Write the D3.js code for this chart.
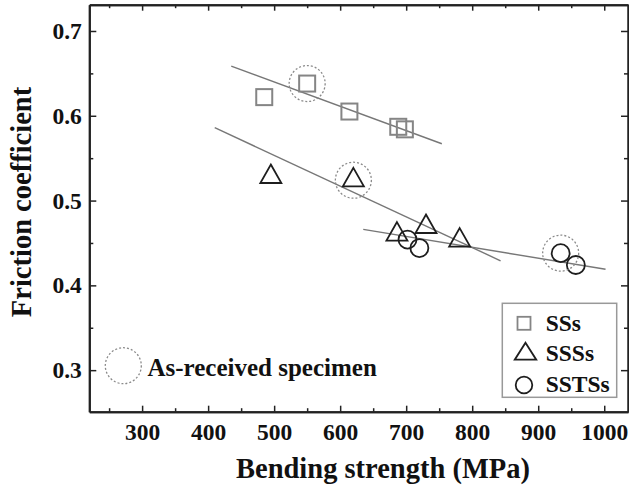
<!DOCTYPE html>
<html>
<head>
<meta charset="utf-8">
<script src="https://cdn.jsdelivr.net/npm/d3@7"></script>
<style>
  html, body { margin: 0; padding: 0; background: #fff; }
  svg { display: block; }
</style>
</head>
<body>
<svg id="chart" width="629" height="488"></svg>
<script>
// ---- data ----
const ssX  = [485, 550, 614, 688, 698];
const ssY  = [0.622, 0.638, 0.605, 0.587, 0.584];
const sssX = [495, 620, 686, 730, 781];
const sssY = [0.528, 0.524, 0.460, 0.469, 0.453];
const sstX = [702, 720, 934, 957];
const sstY = [0.454, 0.444, 0.438, 0.424];
const asReceivedX = [550, 620, 934];
const asReceivedY = [0.638, 0.524, 0.438];
const ssFitX  = [435, 754];
const ssFitY  = [0.6585, 0.567];
const sssFitX = [410, 843];
const sssFitY = [0.586, 0.429];
const sstFitX = [635, 1002];
const sstFitY = [0.466, 0.419];
const xTicks = [300, 400, 500, 600, 700, 800, 900, 1000];
const xMinor = [250, 350, 450, 550, 650, 750, 850, 950];
const yTicks = [0.3, 0.4, 0.5, 0.6, 0.7];
const yMinor = [0.35, 0.45, 0.55, 0.65];
const seriesNames = ["SSs", "SSSs", "SSTSs"];
const xTitle = "Bending strength (MPa)";
const yTitle = "Friction coefficient";
const noteLabel = "As-received specimen";

// ---- layout ----
const FONT = '"Liberation Serif", "Times New Roman", Times, serif';
const svg = d3.select("#chart");
const L = 89.3, T = 4.7, R = 628, B = 411.7;
const x = d3.scaleLinear().domain([220, 1036]).range([L, R]);
const y = d3.scaleLinear().domain([0.251, 0.731]).range([B, T]);

const axisCol = "#222";
function styleAxis(g) {
  g.attr("font-family", FONT).attr("font-weight", "bold");
  g.selectAll("path.domain").attr("stroke", axisCol).attr("stroke-width", 2);
  g.selectAll(".tick line").attr("stroke", axisCol).attr("stroke-width", 1.5);
  g.selectAll(".tick text").attr("font-family", FONT).attr("font-weight", "bold")
    .attr("font-size", 23.5).attr("fill", "#111");
}

// minor ticks
svg.append("g").attr("transform", `translate(0,${B})`)
  .call(d3.axisBottom(x).tickValues(xMinor).tickSize(-3.5).tickSizeOuter(0).tickFormat(""))
  .call(styleAxis);
svg.append("g").attr("transform", `translate(0,${T})`)
  .call(d3.axisTop(x).tickValues(xMinor).tickSize(-3.5).tickSizeOuter(0).tickFormat(""))
  .call(styleAxis);
svg.append("g").attr("transform", `translate(${L},0)`)
  .call(d3.axisLeft(y).tickValues(yMinor).tickSize(-4).tickSizeOuter(0).tickFormat(""))
  .call(styleAxis);
svg.append("g").attr("transform", `translate(${R},0)`)
  .call(d3.axisRight(y).tickValues(yMinor).tickSize(-4).tickSizeOuter(0).tickFormat(""))
  .call(styleAxis);

// major ticks
svg.append("g").attr("transform", `translate(0,${B})`)
  .call(d3.axisBottom(x).tickValues(xTicks).tickSize(-6).tickSizeOuter(0).tickPadding(11.5).tickFormat(d3.format("d")))
  .call(styleAxis);
svg.append("g").attr("transform", `translate(0,${T})`)
  .call(d3.axisTop(x).tickValues(xTicks).tickSize(-6).tickSizeOuter(0).tickFormat(""))
  .call(styleAxis);
svg.append("g").attr("transform", `translate(${L},0)`)
  .call(d3.axisLeft(y).tickValues(yTicks).tickSize(-7).tickSizeOuter(0).tickPadding(7.5).tickFormat(d3.format(".1f")))
  .call(styleAxis);
svg.append("g").attr("transform", `translate(${R},0)`)
  .call(d3.axisRight(y).tickValues(yTicks).tickSize(-7).tickSizeOuter(0).tickFormat(""))
  .call(styleAxis);

function label(sel, size) {
  return sel.attr("font-family", FONT).attr("font-weight", "bold").attr("font-size", size).attr("fill", "#111");
}

// axis titles
label(svg.append("text"), 28.5).attr("x", 383).attr("y", 478).attr("text-anchor", "middle").text(xTitle);
label(svg.append("text"), 28.5).attr("transform", "translate(31,202) rotate(-90)").attr("text-anchor", "middle").text(yTitle);

// fit lines
const lineGen = d3.line().x(d => x(d[0])).y(d => y(d[1]));
[[ssFitX, ssFitY], [sssFitX, sssFitY], [sstFitX, sstFitY]].forEach(([xs, ys]) => {
  svg.append("path").datum(xs.map((v, i) => [v, ys[i]]))
    .attr("d", lineGen).attr("fill", "none").attr("stroke", "#777").attr("stroke-width", 1.4);
});

// marker shapes
function trianglePath(w, h) {
  return `M0,${-2 * h / 3}L${w / 2},${h / 3}L${-w / 2},${h / 3}Z`;
}
const sqCol = "#858585", darkCol = "#1e1e1e";

svg.append("g").selectAll("rect").data(ssX.map((v, i) => [v, ssY[i]])).join("rect")
  .attr("x", d => x(d[0]) - 8).attr("y", d => y(d[1]) - 8).attr("width", 16).attr("height", 16)
  .attr("fill", "none").attr("stroke", sqCol).attr("stroke-width", 2);

svg.append("g").selectAll("path").data(sssX.map((v, i) => [v, sssY[i]])).join("path")
  .attr("transform", d => `translate(${x(d[0])},${y(d[1])})`)
  .attr("d", trianglePath(21, 18.5))
  .attr("fill", "none").attr("stroke", darkCol).attr("stroke-width", 1.8);

svg.append("g").selectAll("circle").data(sstX.map((v, i) => [v, sstY[i]])).join("circle")
  .attr("cx", d => x(d[0])).attr("cy", d => y(d[1])).attr("r", 9)
  .attr("fill", "none").attr("stroke", darkCol).attr("stroke-width", 1.8);

// as-received dashed circles
svg.append("g").selectAll("circle").data(asReceivedX.map((v, i) => [v, asReceivedY[i]])).join("circle")
  .attr("cx", d => x(d[0])).attr("cy", d => y(d[1])).attr("r", 18)
  .attr("fill", "none").attr("stroke", "#8a8a8a").attr("stroke-width", 1.3).attr("stroke-dasharray", "2,2");

// note legend
svg.append("circle").attr("cx", 123.3).attr("cy", 365.7).attr("r", 18)
  .attr("fill", "none").attr("stroke", "#8a8a8a").attr("stroke-width", 1.3).attr("stroke-dasharray", "2,2");
label(svg.append("text"), 25).attr("x", 147.5).attr("y", 375.5).text(noteLabel);

// legend box
const lg = svg.append("g");
lg.append("rect").attr("x", 502.3).attr("y", 303.3).attr("width", 114.4).attr("height", 94)
  .attr("fill", "#fff").attr("stroke", "#999").attr("stroke-width", 1.5);
const rowY = [323.3, 353, 385];
const baseY = [330.5, 361, 392];
lg.append("rect").attr("x", 524 - 6.5).attr("y", rowY[0] - 6.5).attr("width", 13).attr("height", 13)
  .attr("fill", "none").attr("stroke", sqCol).attr("stroke-width", 1.8);
lg.append("path").attr("transform", `translate(525.5,${rowY[1] + 1})`).attr("d", trianglePath(21.5, 17))
  .attr("fill", "none").attr("stroke", darkCol).attr("stroke-width", 1.8);
lg.append("circle").attr("cx", 524).attr("cy", rowY[2]).attr("r", 8.3)
  .attr("fill", "none").attr("stroke", darkCol).attr("stroke-width", 1.8);
seriesNames.forEach((s, i) => {
  label(lg.append("text"), 23.5).attr("x", 545.7).attr("y", baseY[i]).text(s);
});
</script>
</body>
</html>
